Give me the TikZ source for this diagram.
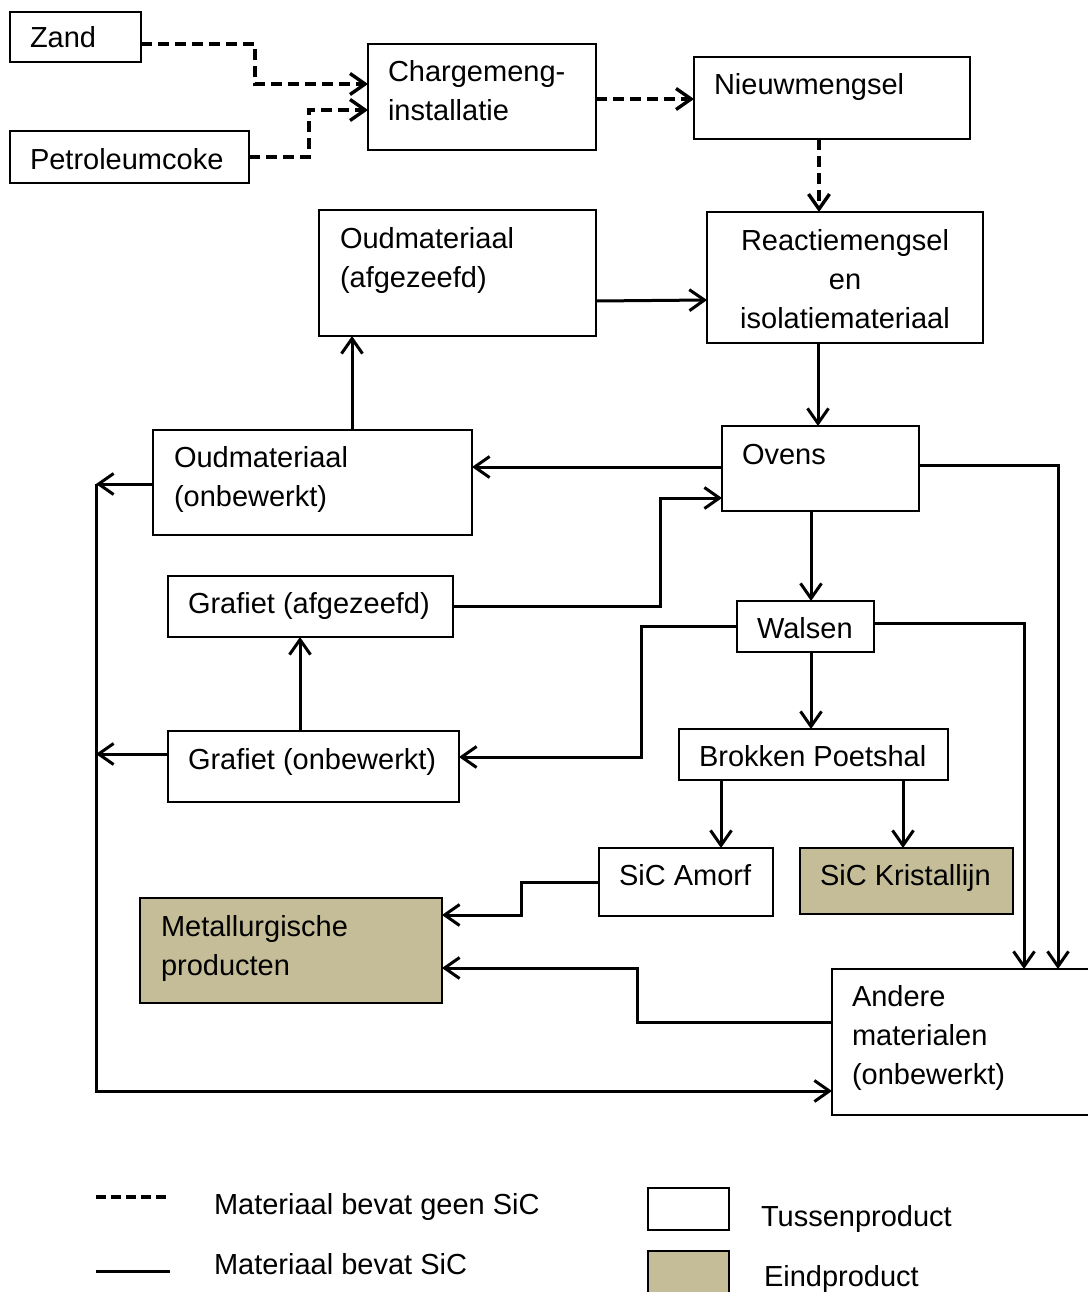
\documentclass[tikz,border=0pt]{standalone}
\usepackage{fontspec}
\setmainfont{Liberation Sans}
\usetikzlibrary{arrows.meta}
\definecolor{tan}{HTML}{C4BD97}
\begin{document}
\begin{tikzpicture}[x=1pt,y=-1pt,
  box/.style={draw=black, line width=1.3pt, inner sep=0pt, outer sep=0pt, anchor=north west},
  endbox/.style={box, fill=tan},
  tx/.style={anchor=north west, inner sep=0pt, outer sep=0pt, yshift=27.3pt, align=left, font=\fontsize{29}{39}\selectfont},
  txc/.style={tx, anchor=north, align=center},
  flow/.style={line width=3pt, -{Straight Barb[length=15pt,width=21pt]}},
  plain/.style={line width=3pt},
  dflow/.style={flow, line width=3.4pt, dash pattern=on 11pt off 6pt},
  dplain/.style={plain, line width=3.4pt, dash pattern=on 10pt off 5pt}]
\useasboundingbox (0,0) rectangle (1087,1292);
\fill[white] (0,0) rectangle (1087,1292);

% boxes
\node[box, minimum width=131pt, minimum height=50pt] (zand) at (10,12) {};
\node[box, minimum width=239pt, minimum height=52pt] (petro) at (10,131) {};
\node[box, minimum width=228pt, minimum height=106pt] (charge) at (368,44) {};
\node[box, minimum width=276pt, minimum height=82pt] (nieuw) at (694,57) {};
\node[box, minimum width=277pt, minimum height=126pt] (oudaf) at (319,210) {};
\node[box, minimum width=276pt, minimum height=131pt] (react) at (707,212) {};
\node[box, minimum width=319pt, minimum height=105pt] (oudon) at (153,430) {};
\node[box, minimum width=197pt, minimum height=85pt] (ovens) at (722,426) {};
\node[box, minimum width=285pt, minimum height=61pt] (grafaf) at (168,576) {};
\node[box, minimum width=137pt, minimum height=51pt] (walsen) at (737,601) {};
\node[box, minimum width=291pt, minimum height=71pt] (grafon) at (168,731) {};
\node[box, minimum width=269pt, minimum height=51pt] (brokken) at (679,729) {};
\node[box, minimum width=174pt, minimum height=68pt] (amorf) at (599,848) {};
\node[endbox, minimum width=213pt, minimum height=66pt] (krist) at (800,848) {};
\node[endbox, minimum width=302pt, minimum height=105pt] (metal) at (140,898) {};
\node[box, minimum width=270pt, minimum height=146pt] (andere) at (832,969) {};
\node[box, minimum width=81pt, minimum height=42pt] (legtus) at (648,1188) {};
\node[endbox, minimum width=81pt, minimum height=55pt] (legeind) at (648,1251) {};

% texts
\node[tx] (t-zand) at (30,48) {\strut Zand};
\node[tx] (t-petro) at (30,170) {\strut Petroleumcoke};
\node[tx] (t-charge) at (388,82) {\strut Chargemeng-\\installatie};
\node[tx] (t-nieuw) at (714,95) {\strut Nieuwmengsel};
\node[tx] (t-oudaf) at (340,248) {\strut Oudmateriaal\\(afgezeefd)};
\node[txc] (t-react) at (845,250) {\strut Reactiemengsel\\en\\isolatiemateriaal};
\node[tx] (t-oudon) at (174,467) {\strut Oudmateriaal\\(onbewerkt)};
\node[tx] (t-ovens) at (742,464) {\strut Ovens};
\node[tx] (t-grafaf) at (188,613) {\strut Grafiet (afgezeefd)};
\node[tx] (t-walsen) at (757,638) {\strut Walsen};
\node[tx] (t-grafon) at (188,769) {\strut Grafiet (onbewerkt)};
\node[tx] (t-brokken) at (699,766) {\strut Brokken Poetshal};
\node[tx] (t-amorf) at (619,885) {\strut SiC Amorf};
\node[tx] (t-krist) at (820,885) {\strut SiC Kristallijn};
\node[tx] (t-metal) at (161,936) {\strut Metallurgische\\producten};
\node[tx] (t-andere) at (852,1006) {\strut Andere\\materialen\\(onbewerkt)};
\node[tx] (t-leg1) at (214,1214) {\strut Materiaal bevat geen SiC};
\node[tx] (t-leg2) at (214,1274) {\strut Materiaal bevat SiC};
\node[tx] (t-leg3) at (761,1226) {\strut Tussenproduct};
\node[tx] (t-leg4) at (764,1286) {\strut Eindproduct};

% dashed connectors
\draw[dflow] (zand.east|-0,44) -- ++(114,0) |- (charge.west|-0,84);
\draw[dflow] (petro.east|-0,157) -- ++(60,0) |- (charge.west|-0,110);
\draw[dflow] (charge.east|-0,99) -- (nieuw.west|-0,99);
\draw[dflow] (819,0|-nieuw.south) -- (819,0|-react.north);

% solid connectors
\draw[flow] (oudaf.east|-0,301) -- (react.west|-0,300);
\draw[flow] (818,0|-react.south) -- (818,0|-ovens.north);
\draw[flow] (ovens.west|-0,467) -- (oudon.east|-0,467);
\draw[flow] (352,0|-oudon.north) -- (352,0|-oudaf.south);
\draw[flow] (grafaf.east|-0,606) -- ++(207,0) |- (ovens.west|-0,498);
\draw[flow] (811,0|-ovens.south) -- (811,0|-walsen.north);
\draw[flow] (ovens.east|-0,465) -| (1058,0|-andere.north);
\draw[flow] (walsen.east|-0,623) -| (1024,0|-andere.north);
\draw[flow] (walsen.west|-0,626) -- ++(-96,0) |- (grafon.east|-0,757);
\draw[flow] (300,0|-grafon.north) -- (300,0|-grafaf.south);
\draw[flow] (811,0|-walsen.south) -- (811,0|-brokken.north);
\draw[flow] (721,0|-brokken.south) -- (721,0|-amorf.north);
\draw[flow] (903,0|-brokken.south) -- (903,0|-krist.north);
\draw[flow] (amorf.west|-0,882) -- ++(-78,0) |- (metal.east|-0,915);
\draw[flow] (andere.west|-0,1022) -- ++(-195,0) |- (metal.east|-0,968);

% left return rail
\coordinate (railtop) at (96,484);
\coordinate (railbot) at (96,1091);
\draw[flow] (oudon.west|-railtop) -- (railtop);
\draw[flow] (grafon.west|-0,754) -- (railtop|-0,754);
\draw[flow] (railtop) -- (railbot) -- (andere.west|-railbot);

% legend lines
\coordinate (lda) at (96,1197);
\coordinate (ldb) at (170,1197);
\coordinate (lsa) at (96,1271);
\coordinate (lsb) at (170,1271);
\draw[dplain] (lda) -- (ldb);
\draw[plain] (lsa) -- (lsb);
\end{tikzpicture}
\end{document}
